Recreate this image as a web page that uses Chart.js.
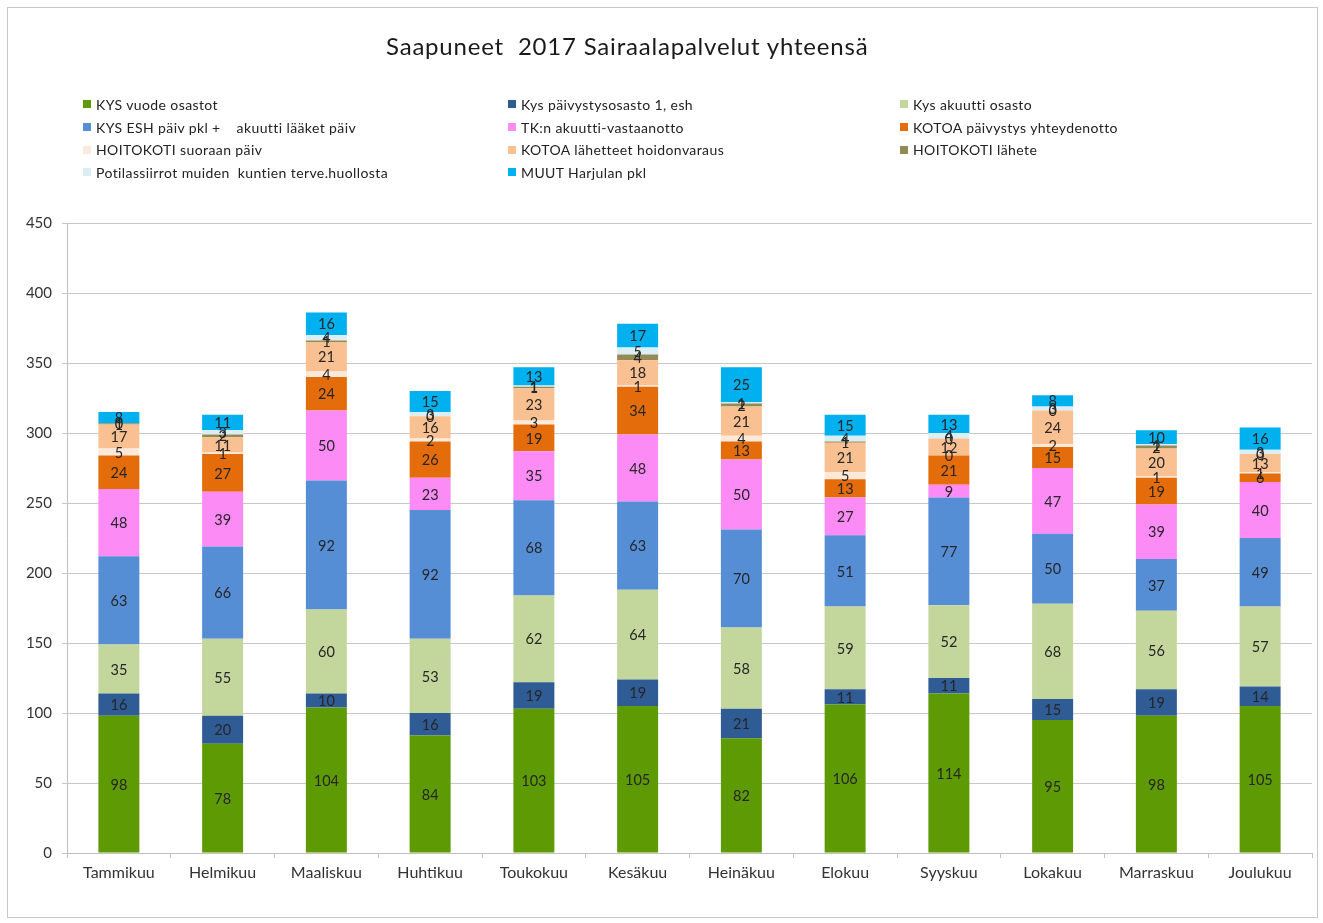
<!DOCTYPE html>
<html><head><meta charset="utf-8">
<script src="https://cdn.jsdelivr.net/npm/chart.js@4/dist/chart.umd.min.js"></script>
<style>
html,body{margin:0;padding:0;background:#fff;}
#wrap{position:relative;width:1323px;height:923px;overflow:hidden;font-family:Lato,"Open Sans",sans-serif;}
#frame{position:absolute;left:7px;top:7px;width:1311px;height:911px;border:1px solid #c8c8c8;box-sizing:border-box;}
#title{position:absolute;left:386px;top:31px;font-size:24px;letter-spacing:0.8px;color:#1a1a1a;white-space:pre;}
#legend{position:absolute;left:83px;top:93px;display:grid;grid-template-columns:425px 392px 300px;grid-auto-rows:22.7px;font-size:14px;letter-spacing:0.4px;color:#222;}
.item{display:flex;align-items:center;white-space:pre;}
.sw{width:8px;height:8px;margin-right:5px;flex:none;}
canvas{position:absolute;left:0;top:0;}
</style></head>
<body>
<div id="wrap">
<div id="frame"></div>
<canvas id="c" width="1323" height="923"></canvas>
<div id="title">Saapuneet  2017 Sairaalapalvelut yhteensä</div>
<div id="legend"></div>
</div>
<script>
const months = ["Tammikuu","Helmikuu","Maaliskuu","Huhtikuu","Toukokuu","Kesäkuu","Heinäkuu","Elokuu","Syyskuu","Lokakuu","Marraskuu","Joulukuu"];
const yTicks = [0,50,100,150,200,250,300,350,400,450];

const kysVuode        = [98,78,104,84,103,105,82,106,114,95,98,105];
const kysPaivystys    = [16,20,10,16,19,19,21,11,11,15,19,14];
const kysAkuutti      = [35,55,60,53,62,64,58,59,52,68,56,57];
const kysEsh          = [63,66,92,92,68,63,70,51,77,50,37,49];
const tkAkuutti       = [48,39,50,23,35,48,50,27,9,47,39,40];
const kotoaPaivystys  = [24,27,24,26,19,34,13,13,21,15,19,6];
const hoitokotiSuoraan= [5,1,4,2,3,1,4,5,0,2,1,1];
const kotoaLahetteet  = [17,11,21,16,23,18,21,21,12,24,20,13];
const hoitokotiLahete = [1,2,1,0,1,4,2,1,0,0,2,0];
const potilassiirrot  = [0,3,4,3,1,5,1,4,4,3,1,3];
const muut            = [8,11,16,15,13,17,25,15,13,8,10,16];

const seriesNames = ["KYS vuode osastot","Kys päivystysosasto 1, esh","Kys akuutti osasto",
 "KYS ESH päiv pkl +    akuutti lääket päiv","TK:n akuutti-vastaanotto","KOTOA päivystys yhteydenotto",
 "HOITOKOTI suoraan päiv","KOTOA lähetteet hoidonvaraus","HOITOKOTI lähete",
 "Potilassiirrot muiden  kuntien terve.huollosta","MUUT Harjulan pkl"];
const seriesValues = [kysVuode,kysPaivystys,kysAkuutti,kysEsh,tkAkuutti,kotoaPaivystys,hoitokotiSuoraan,kotoaLahetteet,hoitokotiLahete,potilassiirrot,muut];
const seriesColors = ["#5e9a04","#2f5c94","#c3d79c","#568ed6","#fd8bf6","#e46c0a","#fde9da","#f9c091","#948a56","#dbeef4","#00b0ef"];

const legend = document.getElementById('legend');
seriesNames.forEach((n,i)=>{
  const d=document.createElement('div'); d.className='item';
  const s=document.createElement('span'); s.className='sw'; s.style.background=seriesColors[i];
  const t=document.createElement('span'); t.textContent=n;
  d.appendChild(s); d.appendChild(t); legend.appendChild(d);
});

const segLabels = {
  id:'segLabels',
  afterDatasetsDraw(chart){
    const ctx=chart.ctx; ctx.save();
    ctx.font='14.5px Lato'; ctx.fillStyle='#262626'; ctx.textAlign='center'; ctx.textBaseline='middle';
    chart.data.datasets.forEach((ds,i)=>{
      const meta=chart.getDatasetMeta(i);
      meta.data.forEach((el,j)=>{
        const v=ds.data[j]; if(v==null) return;
        ctx.fillText(String(v), el.x, (el.y+el.base)/2+1);
      });
    });
    ctx.restore();
  }
};

function draw(){
  new Chart(document.getElementById('c'), {
    type:'bar',
    data:{
      labels:months,
      datasets:seriesNames.map((n,i)=>({label:n,data:seriesValues[i],backgroundColor:seriesColors[i],borderWidth:0,barPercentage:0.395,categoryPercentage:1}))
    },
    options:{
      responsive:false, animation:false,
      layout:{padding:{left:0,right:11,top:223,bottom:0}},
      plugins:{legend:{display:false},title:{display:false},tooltip:{enabled:false}},
      scales:{
        x:{stacked:true,
           grid:{display:true,drawOnChartArea:false,tickLength:5,color:'#bfbfbf',offset:true},
           border:{color:'#bfbfbf'},
           ticks:{color:'#333',font:{family:'Lato',size:16},padding:5,maxRotation:0},
           afterFit(s){s.height=70;}},
        y:{stacked:true,min:0,max:450,
           afterBuildTicks(s){s.ticks=yTicks.map(v=>({value:v}));},
           ticks:{color:'#333',font:{family:'Lato',size:15},padding:10},
           grid:{color:'#c8c8c8',tickLength:5},
           border:{color:'#bfbfbf'},
           afterFit(s){s.width=67;}}
      }
    },
    plugins:[segLabels]
  });
}
if(document.fonts && document.fonts.load){document.fonts.load('13px Lato').then(draw,draw);}else draw();
</script>
</body></html>
